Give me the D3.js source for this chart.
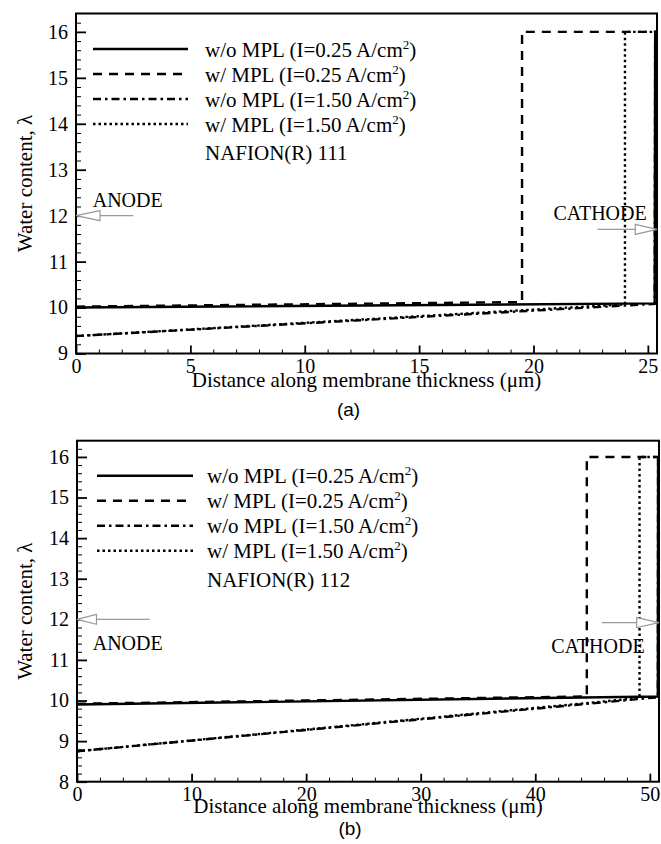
<!DOCTYPE html>
<html>
<head>
<meta charset="utf-8">
<script src="https://cdn.jsdelivr.net/npm/d3@7/dist/d3.min.js"></script>
<style>
    body { margin: 0; background: #fff; }
    text { font-family: "Liberation Serif", "Times New Roman", serif; fill: #000; }
</style>
</head>
<body>
<div id="chart"></div>
<script>

// legend labels (superscript "2" added when drawn)
const seriesLabels = ['w/o MPL (I=0.25 A/cm', 'w/ MPL (I=0.25 A/cm', 'w/o MPL (I=1.50 A/cm', 'w/ MPL (I=1.50 A/cm']

// panel (a), NAFION 111 : distance (um) / water content
const a_woMPL025_x = [0, 25.3, 25.32, 25.4]
const a_woMPL025_y = [10.0, 10.09, 16, 16]
const a_wMPL025_x = [0, 19.5, 19.5, 25.4]
const a_wMPL025_y = [10.02, 10.12, 16, 16]
const a_woMPL150_x = [0, 25.3, 25.32, 25.4]
const a_woMPL150_y = [9.38, 10.08, 16, 16]
const a_wMPL150_x = [0, 24.0, 24.0, 25.4]
const a_wMPL150_y = [9.38, 10.07, 16, 16]

// panel (b), NAFION 112
const b_woMPL025_x = [0, 50.7, 50.72, 50.8]
const b_woMPL025_y = [9.9, 10.1, 16, 16]
const b_wMPL025_x = [0, 44.5, 44.5, 50.8]
const b_wMPL025_y = [9.92, 10.1, 16, 16]
const b_woMPL150_x = [0, 50.7, 50.72, 50.8]
const b_woMPL150_y = [8.75, 10.08, 16, 16]
const b_wMPL150_x = [0, 49.1, 49.1, 50.8]
const b_wMPL150_y = [8.75, 10.06, 16, 16]

// ticks
const a_xTicks = [0, 5, 10, 15, 20, 25]
const a_yTicks = [9, 10, 11, 12, 13, 14, 15, 16]
const b_xTicks = [0, 10, 20, 30, 40, 50]
const b_yTicks = [8, 9, 10, 11, 12, 13, 14, 15, 16]

// annotations [tail x, head base x, tip x, y] and text positions [x, y]
const a_anodeArrow = [2.5, 1.05, 0, 12]
const a_cathodeArrow = [22.8, 24.45, 25.4, 11.7]
const a_anodeText = [0.73, 12.19]
const a_cathodeText = [20.87, 11.9]
const b_anodeArrow = [6.35, 1.7, 0, 12]
const b_cathodeArrow = [45.8, 48.85, 50.8, 11.92]
const b_anodeText = [1.37, 11.24]
const b_cathodeText = [41.4, 11.17]

const dashes = [null, '9,7', '8,4,2.5,4', '2.5,3']

const svg = d3.select('#chart').append('svg')
    .attr('width', 661)
    .attr('height', 844)

function zipXY(xs, ys) {
    return xs.map((d, i) => [d, ys[i]])
}

function drawPanel(cfg) {
    let g = svg.append('g')
        .attr('transform', `translate(${cfg.left}, ${cfg.top})`)

    let x = d3.scaleLinear().domain(cfg.xDomain).range([0, cfg.width])
    let y = d3.scaleLinear().domain(cfg.yDomain).range([cfg.height, 0])

    // minor ticks
    g.append('g')
        .attr('transform', `translate(0, ${cfg.height})`)
        .call(d3.axisBottom(x).tickValues(cfg.xMinor.filter(v => !cfg.xTicks.includes(v))).tickSize(-4).tickFormat(''))
        .call(a => a.select('.domain').remove())
        .selectAll('line').attr('stroke-width', 1)
    g.append('g')
        .call(d3.axisLeft(y).tickValues(cfg.yMinor).tickSize(-5).tickFormat(''))
        .call(a => a.select('.domain').remove())
        .selectAll('line').attr('stroke-width', 1)

    // major ticks + labels
    let xAxis = g.append('g')
        .attr('transform', `translate(0, ${cfg.height})`)
        .call(d3.axisBottom(x).tickValues(cfg.xTicks).tickSize(-8).tickPadding(5))
    xAxis.select('.domain').remove()
    xAxis.selectAll('line').attr('stroke-width', 1.8)
    xAxis.selectAll('text')
        .style('font-family', '"Liberation Serif", serif')
        .style('font-size', '20px')

    let yAxis = g.append('g')
        .call(d3.axisLeft(y).tickValues(cfg.yTicks).tickSize(-10).tickPadding(8))
    yAxis.select('.domain').remove()
    yAxis.selectAll('line').attr('stroke-width', 1.8)
    yAxis.selectAll('text')
        .style('font-family', '"Liberation Serif", serif')
        .style('font-size', '20px')

    // curves
    let line = d3.line().x(d => x(d[0])).y(d => y(d[1]))
    let order = [2, 3, 1, 0]
    order.forEach(i => {
        g.append('path')
            .datum(zipXY(cfg.series[i][0], cfg.series[i][1]))
            .attr('d', line)
            .attr('fill', 'none')
            .attr('stroke', '#000')
            .attr('stroke-width', 2.4)
            .attr('stroke-dasharray', dashes[i])
    })

    // frame
    g.append('rect')
        .attr('width', cfg.width)
        .attr('height', cfg.height)
        .attr('fill', 'none')
        .attr('stroke', '#000')
        .attr('stroke-width', 2)

    // legend
    seriesLabels.forEach((lab, i) => {
        let ly = cfg.legendY + i * 25
        g.append('line')
            .attr('x1', cfg.legendX1).attr('x2', cfg.legendX2)
            .attr('y1', ly).attr('y2', ly)
            .attr('stroke', '#000')
            .attr('stroke-width', 2.4)
            .attr('stroke-dasharray', dashes[i])
        let t = g.append('text')
            .attr('x', cfg.legendText)
            .attr('y', ly + 7.5)
            .style('font-size', '21px')
        t.append('tspan').text(lab)
        t.append('tspan').text('2').attr('dy', -8).style('font-size', '13px')
        t.append('tspan').text(')').attr('dy', 8)
    })
    g.append('text')
        .attr('x', cfg.legendText)
        .attr('y', cfg.legendY + 4 * 25 + 11)
        .style('font-size', '21px')
        .text(cfg.nafion)

    // anode / cathode arrows
    function arrow(a) {
        let yy = y(a[3])
        g.append('line')
            .attr('x1', x(a[0])).attr('x2', x(a[1]))
            .attr('y1', yy).attr('y2', yy)
            .attr('stroke', '#999').attr('stroke-width', 1.2)
        let b = x(a[1]), tip = x(a[2])
        g.append('path')
            .attr('d', `M${b},${yy - 5}L${tip},${yy}L${b},${yy + 5}Z`)
            .attr('fill', '#fff')
            .attr('stroke', '#999')
            .attr('stroke-width', 1.2)
    }
    arrow(cfg.anodeArrow)
    arrow(cfg.cathodeArrow)

    g.append('text')
        .attr('x', x(cfg.anodeText[0])).attr('y', y(cfg.anodeText[1]))
        .style('font-size', '20px')
        .text('ANODE')
    g.append('text')
        .attr('x', x(cfg.cathodeText[0])).attr('y', y(cfg.cathodeText[1]))
        .style('font-size', '20px')
        .text('CATHODE')

    // axis titles
    g.append('text')
        .attr('x', cfg.width / 2)
        .attr('y', cfg.height + cfg.xTitleOffset)
        .attr('text-anchor', 'middle')
        .style('font-size', '21px')
        .text('Distance along membrane thickness (\u03bcm)')

    g.append('text')
        .attr('transform', `translate(${32 - cfg.left}, ${cfg.height / 2}) rotate(-90)`)
        .attr('text-anchor', 'middle')
        .style('font-size', '21px')
        .text('Water content, \u03bb')

    // panel letter
    svg.append('text')
        .attr('x', cfg.left + cfg.width / 2 - 18)
        .attr('y', cfg.letterY)
        .attr('text-anchor', 'middle')
        .style('font-family', '"Liberation Sans", Arial, sans-serif')
        .style('font-size', '19px')
        .text(cfg.letter)
}

drawPanel({
    left: 76, top: 13.5, width: 581, height: 340,
    xDomain: [0, 25.4], yDomain: [9, 16.4],
    xTicks: a_xTicks, yTicks: a_yTicks,
    xMinor: d3.range(0, 25.5, 1),
    yMinor: d3.range(0, 37).map(i => 9 + i * 0.2).filter(v => Math.abs(v - Math.round(v)) > 0.01),
    series: [[a_woMPL025_x, a_woMPL025_y], [a_wMPL025_x, a_wMPL025_y], [a_woMPL150_x, a_woMPL150_y], [a_wMPL150_x, a_wMPL150_y]],
    legendX1: 17, legendX2: 112, legendText: 129, legendY: 35.5,
    nafion: 'NAFION(R) 111',
    anodeArrow: a_anodeArrow, cathodeArrow: a_cathodeArrow,
    anodeText: a_anodeText, cathodeText: a_cathodeText,
    xTitleOffset: 33, letter: '(a)', letterY: 416
})

drawPanel({
    left: 77, top: 440.7, width: 582, height: 341,
    xDomain: [0, 50.8], yDomain: [8, 16.4],
    xTicks: b_xTicks, yTicks: b_yTicks,
    xMinor: d3.range(0, 51, 2),
    yMinor: d3.range(0, 42).map(i => 8 + i * 0.2).filter(v => Math.abs(v - Math.round(v)) > 0.01),
    series: [[b_woMPL025_x, b_woMPL025_y], [b_wMPL025_x, b_wMPL025_y], [b_woMPL150_x, b_woMPL150_y], [b_wMPL150_x, b_wMPL150_y]],
    legendX1: 20, legendX2: 116, legendText: 130, legendY: 35,
    nafion: 'NAFION(R) 112',
    anodeArrow: b_anodeArrow, cathodeArrow: b_cathodeArrow,
    anodeText: b_anodeText, cathodeText: b_cathodeText,
    xTitleOffset: 31.6, letter: '(b)', letterY: 835
})

</script>
</body>
</html>
